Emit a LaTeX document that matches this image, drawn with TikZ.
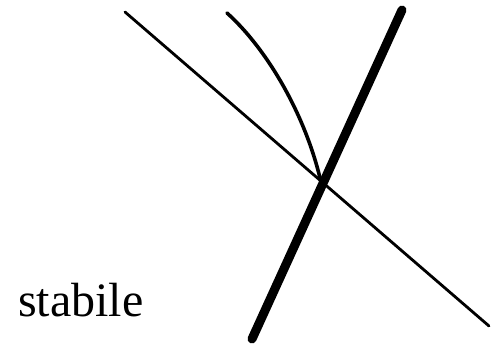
\documentclass[tikz,border=0pt]{standalone}
\usepackage{fontspec}
\setmainfont{Liberation Serif}
\usepackage{tikz}

\begin{document}
\begin{tikzpicture}[x=1pt, y=-1pt, line cap=round,
  thinline/.style={line width=2.8pt},
  curveline/.style={line width=3.6pt},
  thickline/.style={line width=9pt}]

% frame of the picture
\useasboundingbox (0,0) rectangle (491,344);

% end points of the lines
\coordinate (t1) at (125,12);
\coordinate (t2) at (489,326);
\coordinate (k1) at (402,10);
\coordinate (k2) at (252,339);
\coordinate (c1) at (227,13);
\coordinate (x) at (320,178);

% the three lines through one point
\draw[thinline] (t1) -- (t2);
\draw[curveline] (c1) .. controls (266,48) and (304,112) .. (x);
\draw[thickline] (k1) -- (k2);

% label
\node[anchor=base west, inner sep=0pt, font=\fontsize{48}{52}\selectfont] (lab) at (18,317) {stabile};

\end{tikzpicture}
\end{document}
